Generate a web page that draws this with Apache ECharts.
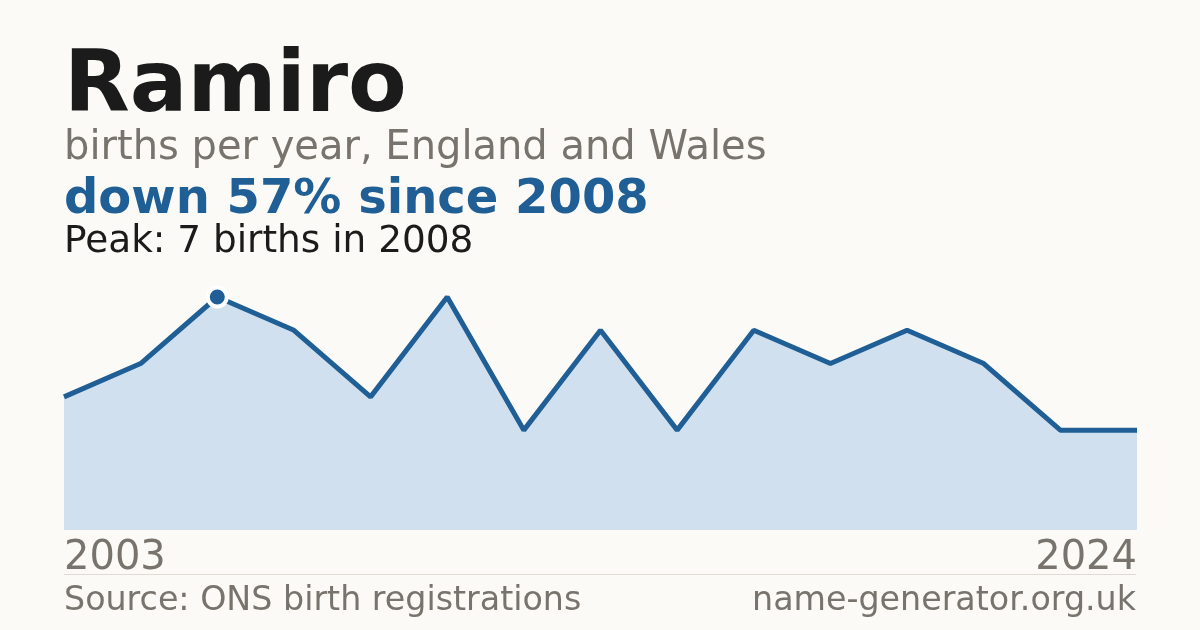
<!DOCTYPE html>
<html>
<head>
<meta charset="utf-8">
<title>Ramiro</title>
<script src="https://cdn.jsdelivr.net/npm/echarts@6/dist/echarts.min.js"></script>
<style>
  html, body { margin: 0; padding: 0; background: #fbfaf6; }
  #chart { width: 1200px; height: 630px; }
</style>
</head>
<body>
<div id="chart"></div>
<script>
// births per year (only years with a published count)
var years = ['2003', '2005', '2008', '2009', '2010', '2011', '2013', '2014',
             '2015', '2016', '2017', '2018', '2019', '2021', '2024'];
var births = [4, 5, 7, 6, 4, 7, 3, 6, 3, 6, 5, 6, 5, 3, 3];

var blue = '#1f5f96';
var grey = '#78746d';
var font = 'DejaVu Sans';

var peak = Math.max.apply(null, births);
var peakIndex = births.indexOf(peak);

var myChart = echarts.init(document.getElementById('chart'));

var option = {
    backgroundColor: '#fbfaf6',
    animation: false,
    grid: {
        left: 64,
        right: 63,
        top: 297,
        bottom: 100
    },
    xAxis: {
        type: 'category',
        data: years,
        boundaryGap: false,
        axisLine: { show: false },
        axisTick: { show: false },
        axisLabel: {
            // only the first and the last year are shown
            interval: function (i) { return i === 0 || i === years.length - 1; },
            alignMinLabel: 'left',
            alignMaxLabel: 'right',
            verticalAlign: 'middle',
            margin: 29,
            color: grey,
            fontFamily: font,
            fontSize: 40
        }
    },
    yAxis: {
        type: 'value',
        min: 0,
        max: peak,
        show: false,
        splitLine: { show: false }
    },
    series: [{
        type: 'line',
        data: births,
        symbol: 'none',
        lineStyle: { color: blue, width: 5 },
        areaStyle: { color: '#d0e0ef', opacity: 1 },
        z: 2
    }, {
        // highlight the peak year
        type: 'scatter',
        data: [[years[peakIndex], births[peakIndex]]],
        symbol: 'circle',
        symbolSize: 19,
        itemStyle: { color: blue, borderColor: '#ffffff', borderWidth: 4, opacity: 1 },
        z: 3
    }],
    graphic: [
        { type: 'text', x: 64, y: 89, style: { text: 'Ramiro', fill: '#1b1b1b', font: 'bold 85.5px "DejaVu Sans"', verticalAlign: 'middle' } },
        { type: 'text', x: 64, y: 149, style: { text: 'births per year, England and Wales', fill: grey, font: '40px "DejaVu Sans"', verticalAlign: 'middle' } },
        { type: 'text', x: 64, y: 201, style: { text: 'down 57% since 2008', fill: blue, font: 'bold 48px "DejaVu Sans"', verticalAlign: 'middle' } },
        { type: 'text', x: 64, y: 242, style: { text: 'Peak: 7 births in 2008', fill: '#1b1b1b', font: '37.4px "DejaVu Sans"', verticalAlign: 'middle' } },
        { type: 'line', shape: { x1: 64, y1: 574.5, x2: 1136, y2: 574.5 }, style: { stroke: '#dedbd3', lineWidth: 1 } },
        { type: 'text', x: 64, y: 601, style: { text: 'Source: ONS birth registrations', fill: grey, font: '33.3px "DejaVu Sans"', verticalAlign: 'middle' } },
        { type: 'text', x: 1136, y: 601, style: { text: 'name-generator.org.uk', fill: grey, font: '33.3px "DejaVu Sans"', verticalAlign: 'middle', align: 'right' } }
    ]
};

myChart.setOption(option);
</script>
</body>
</html>
